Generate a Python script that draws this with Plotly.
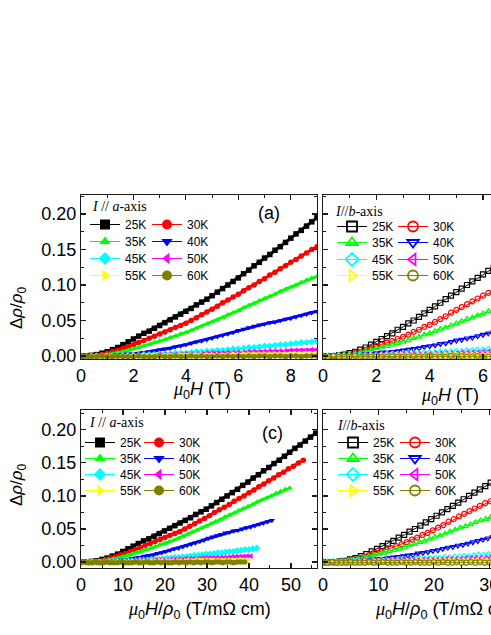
import plotly.graph_objects as go

# ---------------- data ----------------
temps = ["25K", "30K", "35K", "40K", "45K", "50K", "55K", "60K"]

# magnetic field (T), I // a-axis
field_a = [0.0, 0.2, 0.4, 0.6, 0.8, 1.0, 1.2, 1.4, 1.6, 1.8,
           2.0, 2.2, 2.4, 2.6, 2.8, 3.0, 3.2, 3.4, 3.6, 3.8,
           4.0, 4.2, 4.4, 4.6, 4.8, 5.0, 5.2, 5.4, 5.6, 5.8,
           6.0, 6.2, 6.4, 6.6, 6.8, 7.0, 7.2, 7.4, 7.6, 7.8,
           8.0, 8.2, 8.4, 8.6, 8.8, 9.0]

mr_a_25K = [0.000, 0.000, 0.001, 0.002, 0.004, 0.006, 0.009, 0.012, 0.016, 0.020,
            0.024, 0.028, 0.032, 0.035, 0.039, 0.043, 0.047, 0.051, 0.055, 0.059,
            0.063, 0.067, 0.072, 0.076, 0.080, 0.085, 0.090, 0.095, 0.100, 0.105,
            0.110, 0.116, 0.121, 0.127, 0.132, 0.138, 0.143, 0.149, 0.154, 0.160,
            0.166, 0.172, 0.177, 0.183, 0.189, 0.195]
mr_a_30K = [0.000, 0.000, 0.000, 0.001, 0.002, 0.004, 0.006, 0.008, 0.011, 0.013,
            0.016, 0.019, 0.022, 0.025, 0.028, 0.031, 0.034, 0.037, 0.040, 0.043,
            0.046, 0.050, 0.054, 0.058, 0.062, 0.066, 0.070, 0.075, 0.079, 0.083,
            0.087, 0.092, 0.096, 0.100, 0.105, 0.109, 0.114, 0.118, 0.123, 0.127,
            0.132, 0.136, 0.141, 0.145, 0.150, 0.154]
mr_a_35K = [0.000, 0.000, 0.000, 0.001, 0.001, 0.002, 0.003, 0.005, 0.006, 0.008,
            0.010, 0.012, 0.014, 0.016, 0.019, 0.021, 0.023, 0.026, 0.028, 0.031,
            0.033, 0.036, 0.039, 0.042, 0.045, 0.048, 0.051, 0.054, 0.058, 0.061,
            0.064, 0.068, 0.071, 0.074, 0.078, 0.081, 0.084, 0.087, 0.091, 0.094,
            0.097, 0.100, 0.104, 0.107, 0.110, 0.112]
mr_a_40K = [0.000, 0.000, 0.000, 0.000, 0.001, 0.001, 0.001, 0.002, 0.002, 0.003,
            0.003, 0.004, 0.005, 0.006, 0.007, 0.009, 0.010, 0.011, 0.013, 0.014,
            0.016, 0.018, 0.020, 0.021, 0.023, 0.025, 0.027, 0.029, 0.031, 0.033,
            0.036, 0.038, 0.040, 0.042, 0.044, 0.045, 0.047, 0.048, 0.050, 0.052,
            0.053, 0.055, 0.057, 0.059, 0.061, 0.063]
mr_a_45K = [0.000, -0.001, 0.000, 0.000, 0.000, 0.000, 0.000, 0.001, 0.001, 0.001,
            0.001, 0.001, 0.002, 0.002, 0.002, 0.003, 0.003, 0.003, 0.004, 0.004,
            0.004, 0.005, 0.006, 0.006, 0.007, 0.007, 0.008, 0.008, 0.009, 0.010,
            0.010, 0.011, 0.012, 0.012, 0.013, 0.014, 0.014, 0.015, 0.016, 0.016,
            0.017, 0.018, 0.019, 0.019, 0.020, 0.021]
mr_a_50K = [0.000, 0.000, 0.000, 0.000, 0.000, 0.000, 0.000, 0.000, 0.001, 0.001,
            0.001, 0.001, 0.001, 0.001, 0.001, 0.002, 0.002, 0.002, 0.002, 0.002,
            0.003, 0.003, 0.003, 0.003, 0.004, 0.004, 0.004, 0.004, 0.005, 0.005,
            0.005, 0.005, 0.006, 0.006, 0.006, 0.006, 0.007, 0.007, 0.007, 0.007,
            0.008, 0.008, 0.008, 0.008, 0.009, 0.009]
mr_a_55K = [0.000, -0.001, 0.000, 0.000, 0.000, 0.000, -0.001, 0.000, 0.000, 0.000,
            0.001, 0.000, 0.001, 0.001, 0.001, 0.001, 0.001, 0.001, 0.001, 0.002,
            0.001, 0.002, 0.002, 0.002, 0.002, 0.002, 0.002, 0.002, 0.002, 0.003,
            0.002, 0.003, 0.003, 0.003, 0.003, 0.003, 0.003, 0.003, 0.003, 0.003,
            0.003, 0.003, 0.003, 0.004, 0.003, 0.003]
mr_a_60K = [-0.001, 0.000, -0.001, -0.001, 0.000, -0.001, -0.001, 0.000, -0.001, -0.001,
            -0.001, 0.000, -0.001, -0.001, -0.001, 0.000, -0.001, -0.001, 0.000, -0.001,
            -0.001, 0.000, -0.001, 0.000, -0.001, -0.001, 0.000, -0.001, 0.000, -0.001,
            0.000, -0.001, 0.000, -0.001, 0.000, 0.000, -0.001, 0.000, 0.000, -0.001,
            0.000, 0.000, -0.001, 0.000, 0.000, 0.000]

# magnetic field (T), I // b-axis
field_b = [0.0, 0.2, 0.4, 0.6, 0.8, 1.0, 1.2, 1.4, 1.6, 1.8,
           2.0, 2.2, 2.4, 2.6, 2.8, 3.0, 3.2, 3.4, 3.6, 3.8,
           4.0, 4.2, 4.4, 4.6, 4.8, 5.0, 5.2, 5.4, 5.6, 5.8,
           6.0, 6.2, 6.4, 6.6, 6.8, 7.0, 7.2, 7.4, 7.6]

mr_b_25K = [0.000, 0.000, 0.000, 0.001, 0.002, 0.004, 0.006, 0.009, 0.012, 0.016,
            0.020, 0.024, 0.028, 0.032, 0.037, 0.041, 0.046, 0.050, 0.055, 0.060,
            0.065, 0.070, 0.075, 0.080, 0.085, 0.090, 0.095, 0.100, 0.105, 0.110,
            0.115, 0.120, 0.124, 0.129, 0.134, 0.139, 0.144, 0.149, 0.154]
mr_b_30K = [0.000, 0.000, 0.000, 0.001, 0.001, 0.002, 0.004, 0.006, 0.008, 0.011,
            0.014, 0.016, 0.019, 0.021, 0.024, 0.027, 0.030, 0.034, 0.037, 0.041,
            0.044, 0.048, 0.052, 0.056, 0.061, 0.065, 0.069, 0.073, 0.077, 0.081,
            0.085, 0.089, 0.092, 0.096, 0.100, 0.104, 0.108, 0.112, 0.116]
mr_b_35K = [0.000, 0.000, 0.000, 0.001, 0.001, 0.002, 0.003, 0.005, 0.007, 0.009,
            0.011, 0.012, 0.014, 0.016, 0.018, 0.020, 0.022, 0.025, 0.027, 0.030,
            0.032, 0.035, 0.038, 0.040, 0.043, 0.046, 0.049, 0.052, 0.054, 0.057,
            0.060, 0.063, 0.065, 0.068, 0.071, 0.074, 0.077, 0.080, 0.083]
mr_b_40K = [0.000, 0.000, 0.000, 0.000, 0.001, 0.001, 0.002, 0.002, 0.003, 0.003,
            0.004, 0.005, 0.005, 0.006, 0.007, 0.008, 0.009, 0.010, 0.011, 0.013,
            0.014, 0.015, 0.017, 0.018, 0.020, 0.022, 0.023, 0.025, 0.026, 0.028,
            0.030, 0.032, 0.034, 0.036, 0.038, 0.040, 0.042, 0.044, 0.046]
mr_b_45K = [0.000, 0.000, 0.000, 0.000, 0.000, 0.000, 0.001, 0.001, 0.001, 0.001,
            0.001, 0.001, 0.002, 0.002, 0.002, 0.002, 0.003, 0.003, 0.003, 0.004,
            0.004, 0.004, 0.005, 0.005, 0.005, 0.006, 0.006, 0.007, 0.007, 0.008,
            0.008, 0.009, 0.010, 0.010, 0.011, 0.011, 0.012, 0.013, 0.013]
mr_b_50K = [0.000, 0.000, 0.000, 0.000, 0.000, 0.000, 0.000, 0.000, 0.001, 0.001,
            0.001, 0.001, 0.001, 0.001, 0.001, 0.002, 0.002, 0.002, 0.002, 0.002,
            0.002, 0.003, 0.003, 0.003, 0.003, 0.003, 0.004, 0.004, 0.004, 0.004,
            0.005, 0.005, 0.005, 0.005, 0.005, 0.006, 0.006, 0.006, 0.006]
mr_b_55K = [0.000, 0.000, -0.001, 0.000, 0.000, 0.000, 0.000, 0.000, 0.000, 0.001,
            0.000, 0.001, 0.001, 0.001, 0.001, 0.001, 0.001, 0.001, 0.001, 0.001,
            0.001, 0.002, 0.001, 0.002, 0.002, 0.002, 0.002, 0.002, 0.002, 0.002,
            0.002, 0.002, 0.002, 0.002, 0.003, 0.002, 0.003, 0.003, 0.003]
mr_b_60K = [-0.001, -0.001, 0.000, -0.001, -0.001, -0.001, 0.000, -0.001, -0.001, -0.001,
            0.000, -0.001, -0.001, 0.000, -0.001, -0.001, -0.001, 0.000, -0.001, -0.001,
            0.000, -0.001, -0.001, -0.001, 0.000, -0.001, 0.000, -0.001, -0.001, 0.000,
            -0.001, -0.001, 0.000, -0.001, 0.000, -0.001, -0.001, 0.000, -0.001]

# zero-field resistivity rho0 (mOhm cm) for the Kohler plots
rho0_a = [0.161, 0.170, 0.181, 0.198, 0.215, 0.222, 0.226, 0.231]
rho0_b = [0.205, 0.212, 0.218, 0.222, 0.228, 0.232, 0.236, 0.240]

colors = ["#000000", "#FF0000", "#00FF00", "#0000FF", "#00FFFF", "#FF00FF", "#FFFF00", "#808000"]
symbols = ["square", "circle", "triangle-up", "triangle-down", "diamond",
           "triangle-left", "triangle-right", "circle"]

mr_a = [mr_a_25K, mr_a_30K, mr_a_35K, mr_a_40K, mr_a_45K, mr_a_50K, mr_a_55K, mr_a_60K]
mr_b = [mr_b_25K, mr_b_30K, mr_b_35K, mr_b_40K, mr_b_45K, mr_b_50K, mr_b_55K, mr_b_60K]

# ---------------- layout helpers ----------------
W, H = 491, 635
def px(x):
    return x / W
def py(y):
    return 1 - y / H

FONT = "Liberation Sans, Arial, sans-serif"
SERIF = "Liberation Serif, Times New Roman, serif"
LC = "#1a1a1a"

# legend placement per panel: (column lefts, row centres) in pixels
leg_cols = [(85, 147), (332, 393), (80, 139), (333, 395)]
leg_rows = [(224, 241, 258, 275), (226, 242, 259, 275),
            (442, 458, 474, 490), (442, 458, 474, 490)]

fig = go.Figure()

panels = [
    ("x", "y", "a", False, "field"),
    ("x2", "y2", "b", True, "field"),
    ("x3", "y3", "a", False, "kohler"),
    ("x4", "y4", "b", True, "kohler"),
]

legend_layouts = {}
for p, (xa, ya, cur, is_open, kind) in enumerate(panels):
    field = field_a if cur == "a" else field_b
    mrs = mr_a if cur == "a" else mr_b
    rhos = rho0_a if cur == "a" else rho0_b
    for i, t in enumerate(temps):
        xs = field if kind == "field" else [h / rhos[i] for h in field]
        sym = symbols[i] + ("-open" if is_open else "")
        mk = dict(symbol=sym, size=5 if is_open else 5.5, color=colors[i],
                  line=dict(width=1.2 if is_open else 0, color=colors[i]))
        fig.add_trace(go.Scatter(
            x=xs, y=mrs[i], xaxis=xa, yaxis=ya, mode="lines+markers",
            line=dict(color=colors[i], width=1 if is_open else 3), marker=mk,
            showlegend=False, hoverinfo="skip"))
    for i, t in enumerate(temps):
        n = p * 8 + i + 1
        lid = "legend" if n == 1 else f"legend{n}"
        sym = symbols[i] + ("-open" if is_open else "")
        mk = dict(symbol=sym, size=10, color=colors[i],
                  line=dict(width=1.8 if is_open else 0, color=colors[i]))
        fig.add_trace(go.Scatter(
            x=[None], y=[None], xaxis=xa, yaxis=ya, mode="lines+markers",
            name=t, line=dict(color=colors[i], width=1), marker=mk,
            showlegend=True, legend=lid))
        left = leg_cols[p][i % 2]
        top = leg_rows[p][i // 2] - 14
        legend_layouts[lid] = dict(
            x=px(left), y=py(top), xanchor="left", yanchor="top",
            orientation="v", bgcolor="rgba(0,0,0,0)", borderwidth=0,
            itemwidth=30, tracegroupgap=0, itemclick=False, itemdoubleclick=False,
            font=dict(family=FONT, size=12, color="black"))

def xax(domain, rng, dtick, minor_dtick, mirror, anchor):
    return dict(domain=domain, range=rng, dtick=dtick, tick0=0, anchor=anchor,
                showline=True, linecolor=LC, linewidth=1.2, mirror=mirror,
                ticks="inside", ticklen=5, tickwidth=1.2, tickcolor=LC,
                minor=dict(ticks="inside", ticklen=3, tickwidth=1, tickcolor=LC,
                           dtick=minor_dtick, tick0=0),
                showgrid=False, zeroline=False, automargin=False,
                ticklabeloverflow="allow",
                tickfont=dict(family=FONT, size=18, color="black"))

def yax(domain, rng, mirror, showlabels, anchor):
    return dict(domain=domain, range=rng, dtick=0.05, tick0=0, tickformat=".2f",
                showline=True, linecolor=LC, linewidth=1.2, mirror=mirror,
                ticks="inside", ticklen=5, tickwidth=1.2, tickcolor=LC,
                minor=dict(ticks="inside", ticklen=3, tickwidth=1, tickcolor=LC,
                           dtick=0.025, tick0=0),
                showgrid=False, zeroline=False, showticklabels=showlabels,
                anchor=anchor, automargin=False,
                tickfont=dict(family=FONT, size=18, color="black"))

dxL = [px(81), px(317)]
dxR = [px(323), 1.0]
dyT = [py(359), py(195)]
dyB = [py(568), py(410)]
yrT = [-0.0042, 0.2268]
yrB = [-0.009, 0.230]

fig.update_layout(
    width=W, height=H, margin=dict(l=0, r=0, t=0, b=0, autoexpand=False),
    paper_bgcolor="white", plot_bgcolor="white",
    xaxis=xax(dxL, [0, 9], 2, 1, "ticks", "y"),
    yaxis=yax(dyT, yrT, "ticks", True, "x"),
    xaxis2=xax(dxR, [0, 6.3], 2, 1, "ticks", "y2"),
    yaxis2=yax(dyT, yrT, False, False, "x2"),
    xaxis3=xax(dxL, [0, 56.2], 10, 5, "ticks", "y3"),
    yaxis3=yax(dyB, yrB, "ticks", True, "x3"),
    xaxis4=xax(dxR, [0, 30.3], 10, 5, "ticks", "y4"),
    yaxis4=yax(dyB, yrB, False, False, "x4"),
    **legend_layouts,
)

ann = []
def text(x, y, s, size, family=FONT, xanchor="center", angle=0):
    ann.append(dict(x=px(x), y=py(y), xref="paper", yref="paper", text=s,
                    showarrow=False, xanchor=xanchor, yanchor="middle",
                    textangle=angle, font=dict(family=family, size=size, color="black")))

ytitle = "Δ<i>ρ</i>/<i>ρ</i><sub>0</sub>"
text(18, 308, ytitle, 17, angle=-90)
text(18, 485, ytitle, 17, angle=-90)

mu = "<span style='font-family:Liberation Serif'><i>μ</i></span>"
xt_field = mu + "<sub>0</sub><i>H</i> (T)"
xt_kohler = mu + "<sub>0</sub><i>H</i>/<i>ρ</i><sub>0</sub> (T/mΩ cm)"
text(202, 390, xt_field, 18)
text(450, 396, xt_field, 18)
text(199, 610, xt_kohler, 18)
text(373, 610, xt_kohler, 18, xanchor="left")

text(269, 213, "(a)", 18)
text(272, 433, "(c)", 18)

text(90, 206, "<i>I</i> // <i>a</i>-axis", 14, family=SERIF, xanchor="left")
text(333, 211, "<i>I</i>//<i>b</i>-axis", 14, family=SERIF, xanchor="left")
text(87, 423, "<i>I</i> // <i>a</i>-axis", 14, family=SERIF, xanchor="left")
text(335, 425, "<i>I</i>//<i>b</i>-axis", 14, family=SERIF, xanchor="left")

fig.update_layout(annotations=ann)

fig.write_html("out.html",
               config={"displayModeBar": False, "staticPlot": True},
               post_script="document.body.style.margin='0px';document.body.style.overflow='hidden';")
